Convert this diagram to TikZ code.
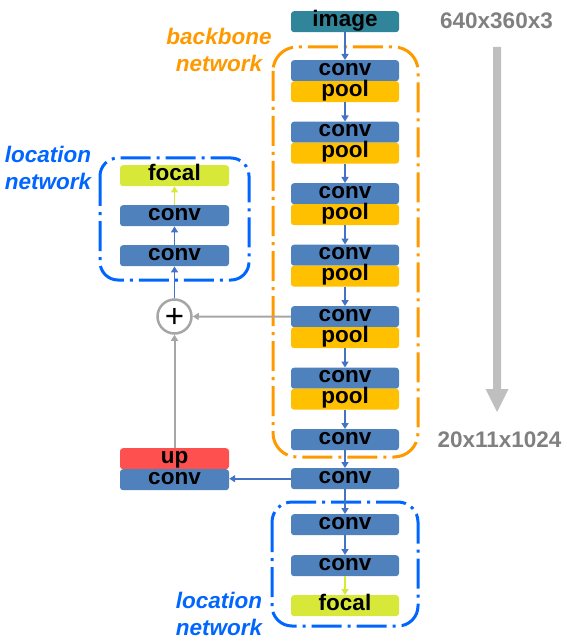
\documentclass[tikz,border=0pt]{standalone}
\usepackage{fontspec}
\newfontfamily\arialf{Liberation Sans}
\usetikzlibrary{arrows.meta}
\definecolor{convc}{RGB}{79,129,189}
\definecolor{poolc}{RGB}{255,192,0}
\definecolor{imgc}{RGB}{49,133,155}
\definecolor{focalc}{RGB}{215,232,56}
\definecolor{upc}{RGB}{255,80,80}
\definecolor{orangec}{RGB}{255,153,0}
\definecolor{bluec}{RGB}{0,102,255}
\definecolor{arrowc}{RGB}{68,114,196}
\definecolor{grayc}{RGB}{166,166,166}
\definecolor{biggray}{RGB}{191,191,191}
\definecolor{txtgray}{RGB}{128,128,128}
\begin{document}
\begin{tikzpicture}[x=1pt,y=-1pt,
  box/.style={rounded corners=3pt, minimum width=108pt, minimum height=21pt,
    inner sep=0pt, text height=15pt, text depth=6pt, anchor=north,
    font=\arialf\bfseries\fontsize{22.5pt}{27pt}\selectfont},
  convbox/.style={box, fill=convc},
  poolbox/.style={box, fill=poolc},
  imgbox/.style={box, fill=imgc},
  focalbox/.style={box, fill=focalc},
  upbox/.style={box, fill=upc},
  lab/.style={align=center, inner sep=0pt,
    font=\arialf\bfseries\itshape\fontsize{22.5pt}{26.5pt}\selectfont},
  dimlab/.style={inner sep=0pt, anchor=base, text=txtgray,
    font=\arialf\bfseries\fontsize{22.5pt}{27pt}\selectfont},
  grp/.style={line width=3pt, rounded corners=20pt,
    dash pattern=on 30pt off 6pt on 3pt off 6pt},
  barrow/.style={draw=arrowc, line width=1.9pt, -{Triangle[length=6pt,width=7pt]}},
  yarrow/.style={draw=focalc, line width=1.9pt, -{Triangle[length=6pt,width=7pt]}},
  garrow/.style={draw=grayc, line width=2pt, -{Triangle[length=6pt,width=7pt]}},
]
\useasboundingbox (0,0) rectangle (566,644);

% group frames
\draw[grp, draw=orangec, rounded corners=24pt] (273,47) rectangle (418,457);
\draw[grp, draw=bluec] (272,502) rectangle (418,626);
\draw[grp, draw=bluec, rounded corners=18pt] (100,158) rectangle (249,280);

% main column
\node[imgbox] (img) at (345,11) {image};
\node[convbox] (c1) at (345,60) {conv};
\node[poolbox] (p1) at (345,81) {pool};
\node[convbox] (c2) at (345,121.5) {conv};
\node[poolbox] (p2) at (345,142.5) {pool};
\node[convbox] (c3) at (345,183) {conv};
\node[poolbox] (p3) at (345,204) {pool};
\node[convbox] (c4) at (345,244.5) {conv};
\node[poolbox] (p4) at (345,265.5) {pool};
\node[convbox] (c5) at (345,306) {conv};
\node[poolbox] (p5) at (345,327) {pool};
\node[convbox] (c6) at (345,367.5) {conv};
\node[poolbox] (p6) at (345,388.5) {pool};
\node[convbox] (c7) at (345,429) {conv};
\node[convbox] (c8) at (345,468) {conv};
\node[convbox] (c9) at (345,514) {conv};
\node[convbox] (c10) at (345,555) {conv};
\node[focalbox] (f2) at (345,595) {focal};

% left column
\node[upbox, minimum width=109pt] (up) at (174.5,448) {up};
\node[convbox, minimum width=109pt] (cu) at (174.5,469) {conv};
\node[convbox, minimum width=109pt] (l2) at (174.5,245) {conv};
\node[convbox, minimum width=109pt] (l1) at (174.5,205) {conv};
\node[focalbox, minimum width=109pt] (f1) at (174.5,165) {focal};
\node[circle, draw=grayc, line width=2.5pt, fill=white, minimum size=34pt,
  inner sep=0pt] (plus) at (174.5,316.5) {};
\node[inner sep=0pt, font=\arialf\fontsize{33pt}{33pt}\selectfont] (plustxt)
  at ([yshift=-1pt]plus.center) {+};

% labels
\node[lab, text=orangec] (bbl) at (219,50) {backbone\\network};
\node[lab, text=bluec] (lnl1) at (48,168) {location\\network};
\node[lab, text=bluec] (lnl2) at (219,614) {location\\network};
\node[dimlab] (d1) at (496.5,29) {640x360x3};
\node[dimlab] (d2) at (499.5,447) {20x11x1024};

% big gray arrow
\fill[biggray] (493,47) -- (501,47) -- (501,389) -- (508.5,389) -- (497,412)
  -- (485.5,389) -- (493,389) -- cycle;

% connectors
\draw[barrow] (img.south) -- (c1.north);
\draw[barrow] (p1.south) -- (c2.north);
\draw[barrow] (p2.south) -- (c3.north);
\draw[barrow] (p3.south) -- (c4.north);
\draw[barrow] (p4.south) -- (c5.north);
\draw[barrow] (p5.south) -- (c6.north);
\draw[barrow] (p6.south) -- (c7.north);
\draw[barrow] (c7.south) -- (c8.north);
\draw[barrow] (c8.south) -- (c9.north);
\draw[barrow] (c9.south) -- (c10.north);
\draw[yarrow] (c10.south) -- (f2.north);
\draw[barrow] (c8.west) -- (c8.west -| cu.east);
\draw[garrow] (c5.west) -- (plus.east);
\draw[garrow] (up.north) -- (plus.south);
\draw[barrow] (plus.north) -- (l2.south);
\draw[barrow] (l2.north) -- (l1.south);
\draw[yarrow] (l1.north) -- (f1.south);
\end{tikzpicture}
\end{document}
